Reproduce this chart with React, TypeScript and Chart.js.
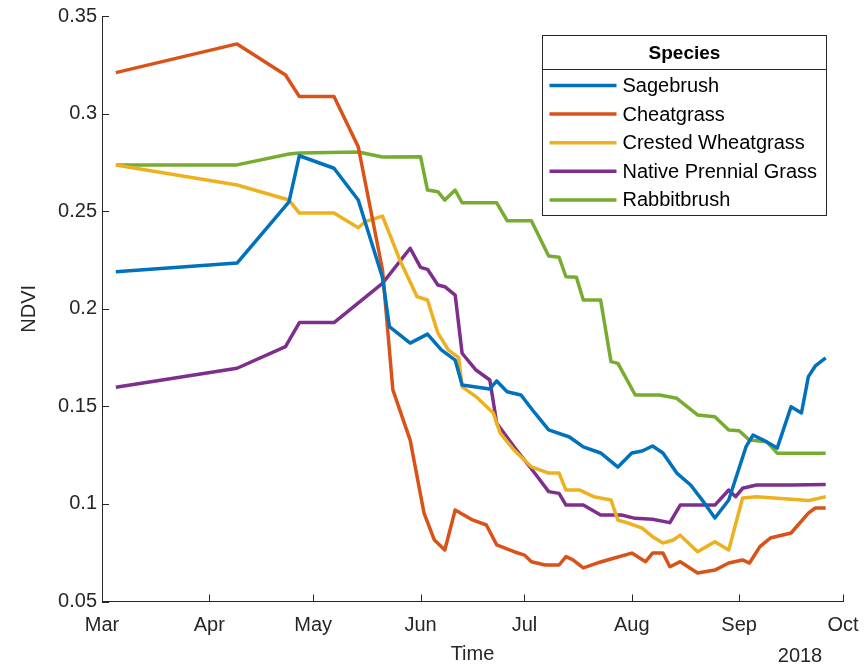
import React, { useEffect, useRef } from "react";
import { Chart, registerables } from "chart.js";

Chart.register(...registerables);

// x values are days since 1 March 2018
const sagebrushDays = [4, 39, 54, 57, 67, 74, 81, 83, 89, 94, 98, 102, 104, 112, 114, 117, 121, 125, 129, 135, 139, 144, 149, 153, 156, 159, 162, 166, 170, 174, 177, 181, 186, 188, 191, 195, 199, 202, 204, 206, 209];
const sagebrushNdvi = [0.219, 0.2234, 0.2548, 0.2784, 0.272, 0.2557, 0.216, 0.1908, 0.1824, 0.187, 0.1789, 0.1737, 0.1609, 0.1589, 0.163, 0.1575, 0.1558, 0.1466, 0.1379, 0.1343, 0.1292, 0.1261, 0.1189, 0.1261, 0.1271, 0.1297, 0.1261, 0.1158, 0.1097, 0.1004, 0.0928, 0.102, 0.1293, 0.1353, 0.1327, 0.1286, 0.1498, 0.1466, 0.1652, 0.1707, 0.1748];

const cheatgrassDays = [4, 39, 53, 57, 67, 74, 81, 84, 89, 93, 96, 99, 102, 107, 111, 114, 119, 122, 124, 128, 132, 134, 136, 139, 143, 148, 153, 157, 159, 162, 164, 167, 172, 177, 181, 185, 187, 190, 193, 199, 204, 206, 209];
const cheatgrassNdvi = [0.321, 0.3357, 0.3198, 0.3087, 0.3087, 0.283, 0.22, 0.1584, 0.1327, 0.0953, 0.0815, 0.0764, 0.0969, 0.0918, 0.0892, 0.079, 0.0755, 0.0738, 0.0704, 0.0687, 0.0687, 0.073, 0.0713, 0.0672, 0.0697, 0.0723, 0.0748, 0.0704, 0.0748, 0.0748, 0.0678, 0.0704, 0.0646, 0.0661, 0.0697, 0.0713, 0.0697, 0.0781, 0.0825, 0.0851, 0.0953, 0.0979, 0.0979];

const crestedDays = [4, 39, 54, 57, 67, 74, 76, 81, 86, 91, 94, 97, 100, 103, 104, 108, 113, 115, 119, 124, 129, 132, 134, 138, 142, 147, 149, 152, 156, 159, 162, 165, 167, 172, 177, 181, 185, 189, 204, 209];
const crestedNdvi = [0.2737, 0.2634, 0.2557, 0.249, 0.249, 0.2415, 0.2446, 0.2475, 0.225, 0.2062, 0.2045, 0.1876, 0.1789, 0.175, 0.16, 0.155, 0.1466, 0.1363, 0.1276, 0.119, 0.1158, 0.1158, 0.1071, 0.1071, 0.1037, 0.102, 0.0917, 0.0902, 0.0876, 0.0832, 0.08, 0.0815, 0.084, 0.0755, 0.0806, 0.0764, 0.103, 0.1037, 0.1017, 0.1037];

const nativeDays = [4, 39, 53, 57, 67, 81, 89, 92, 94, 97, 99, 102, 104, 108, 112, 114, 119, 125, 129, 132, 134, 139, 144, 150, 154, 159, 164, 167, 177, 181, 183, 185, 189, 199, 209];
const nativeNdvi = [0.1598, 0.1695, 0.1806, 0.1929, 0.1929, 0.213, 0.231, 0.2212, 0.2202, 0.2122, 0.2113, 0.207, 0.1772, 0.1686, 0.1635, 0.1413, 0.1293, 0.1157, 0.1063, 0.1054, 0.0994, 0.0994, 0.0943, 0.0943, 0.0926, 0.0921, 0.0904, 0.0994, 0.0994, 0.1071, 0.1037, 0.108, 0.1097, 0.1097, 0.11];

const rabbitDays = [4, 39, 54, 57, 74, 81, 92, 94, 97, 99, 102, 104, 114, 117, 124, 129, 132, 134, 137, 139, 144, 147, 149, 154, 161, 166, 172, 177, 181, 184, 187, 192, 195, 209];
const rabbitNdvi = [0.2737, 0.2737, 0.2793, 0.2798, 0.2803, 0.2778, 0.2779, 0.2608, 0.26, 0.2557, 0.2608, 0.2543, 0.2543, 0.2451, 0.2451, 0.227, 0.2264, 0.2164, 0.2161, 0.2045, 0.2045, 0.1729, 0.172, 0.1558, 0.1558, 0.1541, 0.1456, 0.1447, 0.1379, 0.1375, 0.1327, 0.1318, 0.126, 0.126];

const seriesLabels = ["Sagebrush", "Cheatgrass", "Crested Wheatgrass", "Native Prennial Grass", "Rabbitbrush"];
const seriesColors = ["#0072BD", "#D95319", "#EDB120", "#7E2F8E", "#77AC30"];

const monthStarts = [0, 31, 61, 92, 122, 153, 184, 214];
const monthLabels = ["Mar", "Apr", "May", "Jun", "Jul", "Aug", "Sep", "Oct"];
const yTicks = [0.05, 0.1, 0.15, 0.2, 0.25, 0.3, 0.35];

const legendTitle = "Species";
const xTitle = "Time";
const yTitle = "NDVI";
const yearLabel = "2018";

const FONT = "'Liberation Sans', Arial, Helvetica, sans-serif";
const AXIS_COLOR = "#262626";
const FONT_SIZE = 20;
const TICK_LEN = 7;

const decorPlugin = {
  id: "decor",
  afterDraw(chart: any) {
    const ctx = chart.ctx as CanvasRenderingContext2D;
    const { left, right, bottom, top } = chart.chartArea;
    const xs = chart.scales.x;
    const ys = chart.scales.y;
    ctx.save();
    // inward tick marks
    ctx.strokeStyle = AXIS_COLOR;
    ctx.lineWidth = 1;
    ctx.beginPath();
    xs.ticks.forEach((t: any) => {
      const px = Math.round(xs.getPixelForValue(t.value)) + 0.5;
      ctx.moveTo(px, bottom);
      ctx.lineTo(px, bottom - TICK_LEN);
    });
    ys.ticks.forEach((t: any) => {
      const py = Math.round(ys.getPixelForValue(t.value)) + 0.5;
      ctx.moveTo(left, py);
      ctx.lineTo(left + TICK_LEN, py);
    });
    ctx.stroke();

    // year label under the last tick
    ctx.fillStyle = AXIS_COLOR;
    ctx.font = `${FONT_SIZE}px ${FONT}`;
    ctx.textAlign = "center";
    ctx.textBaseline = "middle";
    ctx.fillText(yearLabel, right - 43, 656);

    // legend
    const ds = chart.data.datasets;
    ctx.font = `${FONT_SIZE}px ${FONT}`;
    let maxW = 0;
    ds.forEach((d: any) => {
      maxW = Math.max(maxW, ctx.measureText(d.label).width);
    });
    const sampleLen = 67;
    const boxRight = Math.round(right - 17) + 0.5;
    const boxW = Math.round(7 + sampleLen + 6 + maxW + 9);
    const boxLeft = boxRight - boxW;
    const boxTop = Math.round(top + 19) + 0.5;
    const titleH = 34;
    const rowH = 28.6;
    const boxH = Math.round(titleH + rowH * ds.length + 3);
    ctx.fillStyle = "#ffffff";
    ctx.fillRect(boxLeft, boxTop, boxW, boxH);
    ctx.strokeStyle = AXIS_COLOR;
    ctx.lineWidth = 1;
    ctx.strokeRect(boxLeft, boxTop, boxW, boxH);
    ctx.beginPath();
    ctx.moveTo(boxLeft, boxTop + titleH);
    ctx.lineTo(boxRight, boxTop + titleH);
    ctx.stroke();

    ctx.fillStyle = "#000000";
    ctx.font = `bold ${FONT_SIZE - 1}px ${FONT}`;
    ctx.textAlign = "center";
    ctx.fillText(legendTitle, (boxLeft + boxRight) / 2, boxTop + titleH / 2 + 1);

    ctx.font = `${FONT_SIZE}px ${FONT}`;
    ctx.textAlign = "left";
    ds.forEach((d: any, i: number) => {
      const cy = boxTop + titleH + 16 + i * rowH;
      ctx.strokeStyle = d.borderColor;
      ctx.lineWidth = 3.5;
      ctx.beginPath();
      ctx.moveTo(boxLeft + 7, cy);
      ctx.lineTo(boxLeft + 7 + sampleLen, cy);
      ctx.stroke();
      ctx.fillStyle = "#000000";
      ctx.fillText(d.label, boxLeft + 7 + sampleLen + 6, cy + 1);
    });
    ctx.restore();
  },
};

export default function App() {
  const canvasRef = useRef<HTMLCanvasElement | null>(null);

  useEffect(() => {
    const canvas = canvasRef.current;
    if (!canvas) return;
    const daysList = [sagebrushDays, cheatgrassDays, crestedDays, nativeDays, rabbitDays];
    const valsList = [sagebrushNdvi, cheatgrassNdvi, crestedNdvi, nativeNdvi, rabbitNdvi];
    const datasets = seriesLabels.map((label, i) => ({
      label,
      data: daysList[i].map((d, j) => ({ x: d, y: valsList[i][j] })),
      borderColor: seriesColors[i],
      backgroundColor: seriesColors[i],
      borderWidth: 3.5,
      pointRadius: 0,
      tension: 0,
      fill: false,
      borderJoinStyle: "round" as const,
      borderCapStyle: "butt" as const,
    }));

    const chart = new Chart(canvas, {
      type: "line",
      data: { datasets },
      plugins: [decorPlugin],
      options: {
        animation: false,
        responsive: false,
        maintainAspectRatio: false,
        layout: { padding: { top: 16, right: 21, left: 0, bottom: 0 } },
        plugins: {
          legend: { display: false },
          tooltip: { enabled: false },
        },
        scales: {
          x: {
            type: "linear",
            min: monthStarts[0],
            max: monthStarts[monthStarts.length - 1],
            afterBuildTicks: (scale: any) => {
              scale.ticks = monthStarts.map((v) => ({ value: v }));
            },
            afterFit: (scale: any) => {
              scale.height = 69.5;
              scale.paddingLeft = 0;
              scale.paddingRight = 0;
            },
            grid: { display: false, drawTicks: false },
            border: { display: true, color: AXIS_COLOR, width: 1 },
            ticks: {
              autoSkip: false,
              maxRotation: 0,
              padding: 12,
              color: AXIS_COLOR,
              font: { family: FONT, size: FONT_SIZE },
              callback: (value: any) => {
                const idx = monthStarts.indexOf(Number(value));
                return idx >= 0 ? monthLabels[idx] : "";
              },
            },
            title: {
              display: true,
              text: xTitle,
              color: AXIS_COLOR,
              font: { family: FONT, size: FONT_SIZE },
              padding: { top: 0, bottom: 4.6 },
            },
          },
          y: {
            type: "linear",
            min: yTicks[0],
            max: yTicks[yTicks.length - 1],
            afterBuildTicks: (scale: any) => {
              scale.ticks = yTicks.map((v) => ({ value: v }));
            },
            afterFit: (scale: any) => {
              scale.width = 102;
              scale.paddingTop = 0;
              scale.paddingBottom = 0;
            },
            grid: { display: false, drawTicks: false },
            border: { display: true, color: AXIS_COLOR, width: 1 },
            ticks: {
              padding: 5,
              color: AXIS_COLOR,
              font: { family: FONT, size: FONT_SIZE },
              callback: (value: any) => String(Math.round(Number(value) * 100) / 100),
            },
            title: {
              display: true,
              text: yTitle,
              color: AXIS_COLOR,
              font: { family: FONT, size: FONT_SIZE },
              padding: { top: 17.6, bottom: 0 },
            },
          },
        },
      },
    });
    return () => chart.destroy();
  }, []);

  return (
    <div style={{ position: "fixed", left: 0, top: 0, width: 864, height: 671, background: "#ffffff" }}>
      <canvas ref={canvasRef} width={864} height={671} style={{ display: "block", width: 864, height: 671 }} />
    </div>
  );
}
